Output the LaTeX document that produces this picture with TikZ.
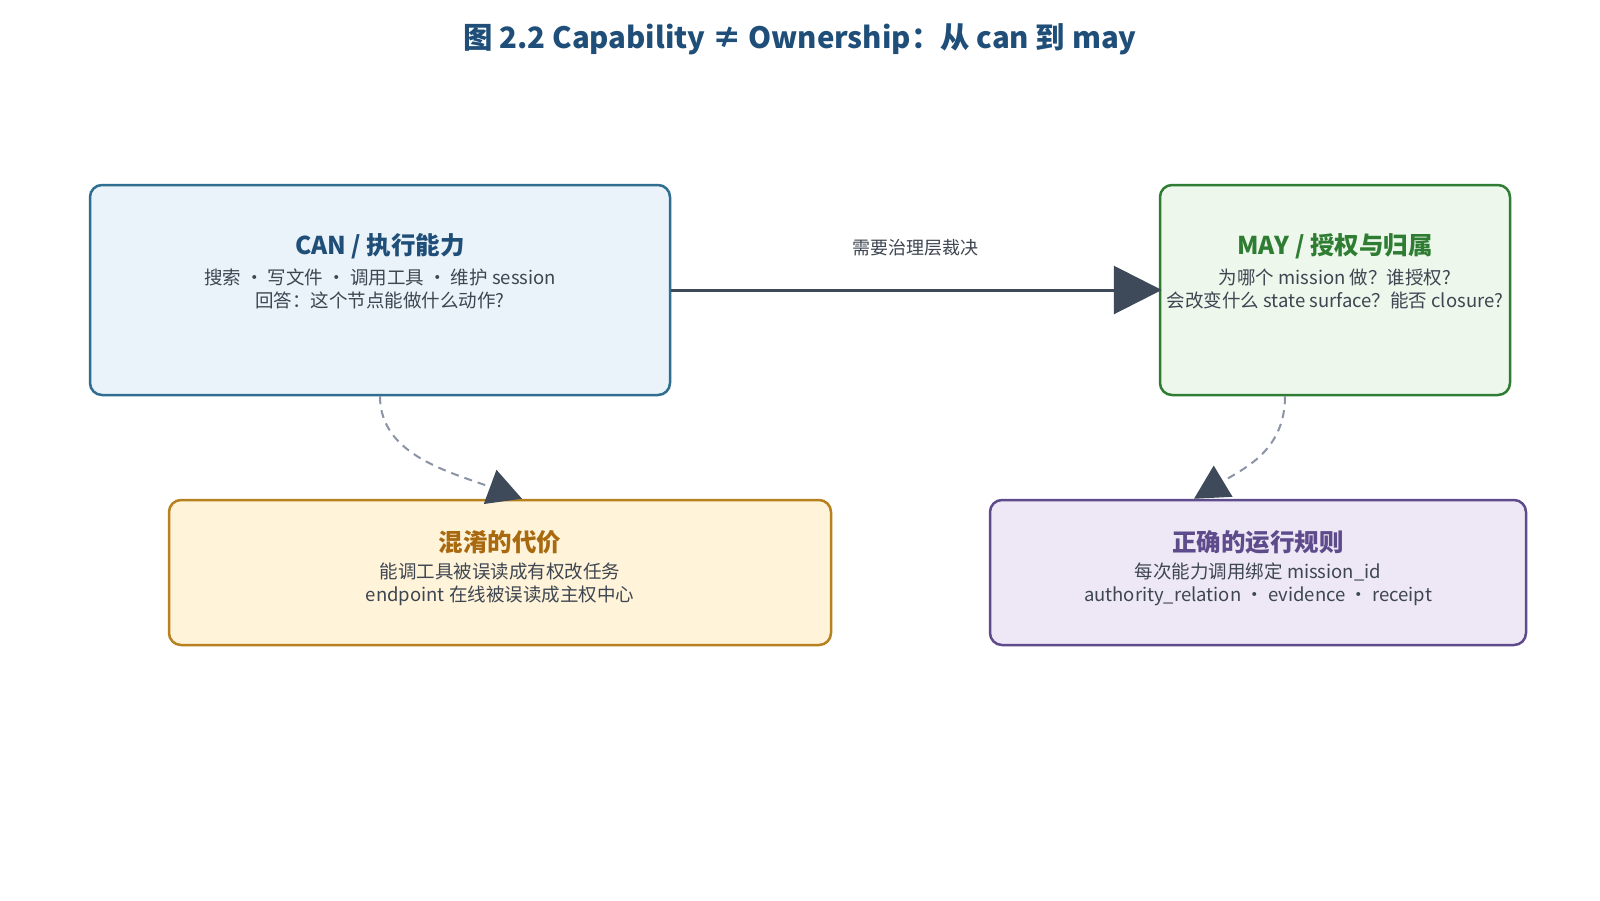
\documentclass[tikz,border=0pt]{standalone}
\usepackage{fontspec}
\setmainfont{Noto Sans CJK SC}
\usetikzlibrary{arrows.meta}
\definecolor{titleblue}{HTML}{1F4E79}
\definecolor{bodytext}{HTML}{3D4651}
\definecolor{canline}{HTML}{2F6E91}
\definecolor{canfill}{HTML}{EAF3F9}
\definecolor{mayline}{HTML}{2E7D32}
\definecolor{mayfill}{HTML}{EDF7EC}
\definecolor{orline}{HTML}{B7811F}
\definecolor{orfill}{HTML}{FFF3D9}
\definecolor{ortitle}{HTML}{A8690F}
\definecolor{puline}{HTML}{5E4B8B}
\definecolor{pufill}{HTML}{EEE8F6}
\definecolor{arrowcol}{HTML}{3E4A59}
\definecolor{dashcol}{HTML}{8A94A6}
\begin{document}
\begin{tikzpicture}[x=1pt,y=-1pt,
  panel/.style={draw, rounded corners=12pt, line width=2.5pt, inner sep=0pt},
  paneltitle/.style={font=\fontsize{24.5pt}{28pt}\selectfont\bfseries, inner sep=0pt},
  panelbody/.style={font=\fontsize{18.5pt}{23.5pt}\selectfont, text=bodytext, align=center, inner sep=0pt},
  mainarrow/.style={draw=arrowcol, line width=3pt, shorten >=-3pt, -{Triangle[length=48pt,width=48pt]}},
  dasharrow/.style={draw=dashcol, line width=2pt, dash pattern=on 8pt off 6pt, -{Triangle[length=34pt,width=36pt,color=arrowcol]}},
]
\useasboundingbox (0,0) rectangle (1600,900);
\fill[white] (0,0) rectangle (1600,900);

\node[font=\fontsize{29.4pt}{36pt}\selectfont\bfseries, text=titleblue, inner sep=0pt] (title) at (800,39) {图 2.2 Capability ≠ Ownership：从 can 到 may};

% panels
\node[panel, draw=canline, fill=canfill, minimum width=580pt, minimum height=210pt] (can) at (380,290) {};
\node[panel, draw=mayline, fill=mayfill, minimum width=350pt, minimum height=210pt] (may) at (1335,290) {};
\node[panel, draw=orline, fill=orfill, minimum width=662pt, minimum height=145pt] (cost) at (500,572.5) {};
\node[panel, draw=puline, fill=pufill, minimum width=536pt, minimum height=145pt] (rule) at (1258,572.5) {};

% texts
\node[paneltitle, text=titleblue] (cant) at (380,246) {CAN / 执行能力};
\node[panelbody] (canb) at (380,289) {搜索 ・ 写文件 ・ 调用工具 ・ 维护 session\\回答：这个节点能做什么动作?};

\node[paneltitle, text=mayline] (mayt) at (1335,246) {MAY / 授权与归属};
\node[panelbody] (mayb) at (1335,289) {为哪个 mission 做？谁授权?\\会改变什么 state surface？能否 closure?};

\node[paneltitle, text=ortitle] (costt) at (500,542) {混淆的代价};
\node[panelbody] (costb) at (500,584.5) {能调工具被误读成有权改任务\\endpoint 在线被误读成主权中心};

\node[paneltitle, text=puline] (rulet) at (1258,542) {正确的运行规则};
\node[panelbody] (ruleb) at (1258,584.5) {每次能力调用绑定 mission\_id\\authority\_relation ・ evidence ・ receipt};

% connectors
\draw[mainarrow] (can.east) -- node[midway, yshift=42pt, font=\fontsize{18pt}{22pt}\selectfont, text=bodytext, inner sep=0pt] (lbl) {需要治理层裁决} (may.west);

\draw[dasharrow] (can.south) .. controls (380,455) and (450,472) .. ([xshift=22pt]cost.north);
\draw[dasharrow] ([xshift=-50pt]may.south) .. controls (1285,450) and (1245,468) .. ([xshift=-64pt]rule.north);
\end{tikzpicture}
\end{document}
